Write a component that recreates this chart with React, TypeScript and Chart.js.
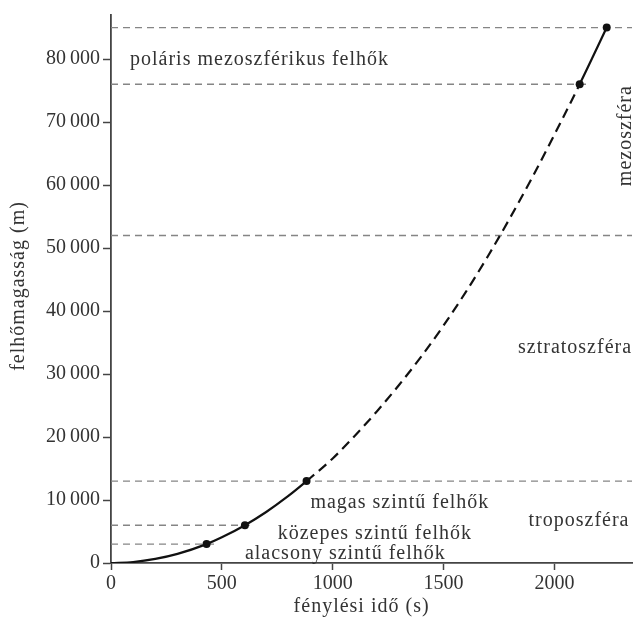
import React, { useEffect, useRef } from "react";
import { Chart, registerables } from "chart.js";

Chart.register(...registerables);

// ---- data ----
const curveTimes = [0, 100, 200, 300, 431, 500, 604, 700, 800, 882, 1000, 1100, 1200, 1300, 1400, 1500, 1600, 1700, 1800, 1900, 2000, 2114, 2236];
const curveHeights = [0, 160, 650, 1450, 3000, 4070, 6000, 8100, 10650, 13000, 16600, 20200, 24100, 28300, 32800, 37700, 43000, 48700, 54800, 61200, 68000, 76000, 85000];
const markerTimes = [431, 604, 882, 2114, 2236];
const markerHeights = [3000, 6000, 13000, 76000, 85000];
const dashedFrom = 882;
const dashedTo = 2114;

const refHeights = [3000, 6000, 13000, 52000, 76000, 85000];
const refEnds = [477, 625, 2350, 2350, 2151, 2350];

const xTickValues = [0, 500, 1000, 1500, 2000];
const yTickValues = [0, 10000, 20000, 30000, 40000, 50000, 60000, 70000, 80000];

const xTitle = "fénylési idő (s)";
const yTitle = "felhőmagasság (m)";

const noteTexts = [
  "poláris mezoszférikus felhők",
  "mezoszféra",
  "sztratoszféra",
  "troposzféra",
  "magas szintű felhők",
  "közepes szintű felhők",
  "alacsony szintű felhők",
];
const noteX = [670, 2322, 2093, 2111, 1303, 1190, 1057];
const noteY = [79830, 67850, 34230, 6710, 9590, 4670, 1525];
const noteRotated = [false, true, false, false, false, false, false];

const FONT = "'Liberation Serif', 'DejaVu Serif', serif";
const TEXT = "#333333";

const fmt = (v: number) => {
  if (v === 0) return "0";
  const s = String(v);
  return s.slice(0, s.length - 3) + "\u2009" + s.slice(s.length - 3);
};

const notesPlugin = {
  id: "notes",
  afterDraw(chart: any) {
    const { ctx, scales, chartArea } = chart;
    ctx.save();
    ctx.font = `20px ${FONT}`;
    ctx.fillStyle = TEXT;
    ctx.textAlign = "center";
    ctx.textBaseline = "middle";
    (ctx as any).letterSpacing = "1px";
    noteTexts.forEach((t, i) => {
      const px = scales.x.getPixelForValue(noteX[i]);
      const py = scales.y.getPixelForValue(noteY[i]);
      ctx.save();
      ctx.translate(px, py);
      if (noteRotated[i]) ctx.rotate(-Math.PI / 2);
      ctx.fillText(t, 0, 0);
      ctx.restore();
    });
    // axis titles
    ctx.save();
    ctx.translate(chartArea.left + (chartArea.right - chartArea.left) * 0.481, chart.height - 14);
    ctx.fillText(xTitle, 0, 0);
    ctx.restore();
    ctx.save();
    ctx.translate(19, (chartArea.top + chartArea.bottom) / 2 - 3);
    ctx.rotate(-Math.PI / 2);
    ctx.fillText(yTitle, 0, 0);
    ctx.restore();
    ctx.restore();
  },
};

export default function App() {
  const ref = useRef<HTMLCanvasElement | null>(null);

  useEffect(() => {
    document.body.style.margin = "0";
    if (!ref.current) return;

    const refSets = refHeights.map((h, i) => ({
      type: "line" as const,
      data: [
        { x: 0, y: h },
        { x: refEnds[i], y: h },
      ],
      borderColor: "#858585",
      borderWidth: 1.4,
      borderDash: [7, 5],
      pointRadius: 0,
      fill: false,
    }));

    const chart = new Chart(ref.current, {
      type: "line",
      data: {
        datasets: [
          {
            data: markerTimes.map((x, i) => ({ x, y: markerHeights[i] })),
            showLine: false,
            pointRadius: 4,
            pointBackgroundColor: "#111",
            pointBorderColor: "#111",
            borderWidth: 0,
          },
          {
            data: curveTimes.map((x, i) => ({ x, y: curveHeights[i] })),
            borderColor: "#111",
            borderWidth: 2.2,
            pointRadius: 0,
            cubicInterpolationMode: "monotone",
            segment: {
              borderDash: (c: any) =>
                c.p0.parsed.x >= dashedFrom && c.p1.parsed.x <= dashedTo ? [10, 6] : undefined,
            },
            fill: false,
          },
          ...refSets,
        ] as any,
      },
      options: {
        animation: false,
        responsive: false,
        devicePixelRatio: 1,
        layout: { padding: { top: 10, right: 2, left: 0, bottom: 0 } },
        plugins: { legend: { display: false }, tooltip: { enabled: false } },
        scales: {
          x: {
            type: "linear",
            min: 0,
            max: 2350,
            afterBuildTicks: (s: any) => {
              s.ticks = xTickValues.map((v) => ({ value: v }));
            },
            afterFit: (s: any) => {
              s.height = 58;
            },
            ticks: {
              color: TEXT,
              font: { family: FONT, size: 20 },
              padding: 2,
              maxRotation: 0,
              callback: (v: any) => String(v),
            },
            grid: {
              drawOnChartArea: false,
              drawTicks: true,
              tickLength: 7,
              tickColor: "#444",
              tickWidth: 1.5,
            },
            border: { display: true, color: "#444", width: 1.8 },
            title: { display: false },
          },
          y: {
            type: "linear",
            min: 0,
            max: 87000,
            afterBuildTicks: (s: any) => {
              s.ticks = yTickValues.map((v) => ({ value: v }));
            },
            afterFit: (s: any) => {
              s.width = 111;
            },
            ticks: {
              color: TEXT,
              font: { family: FONT, size: 20 },
              padding: 3,
              callback: (v: any) => fmt(Number(v)),
            },
            grid: {
              drawOnChartArea: false,
              drawTicks: true,
              tickLength: 8,
              tickColor: "#444",
              tickWidth: 1.5,
            },
            border: { display: true, color: "#444", width: 1.8 },
            title: { display: false },
          },
        },
      },
      plugins: [notesPlugin],
    });

    return () => chart.destroy();
  }, []);

  return (
    <div style={{ width: 636, height: 621 }}>
      <canvas ref={ref} width={636} height={621} style={{ display: "block" }} />
    </div>
  );
}
